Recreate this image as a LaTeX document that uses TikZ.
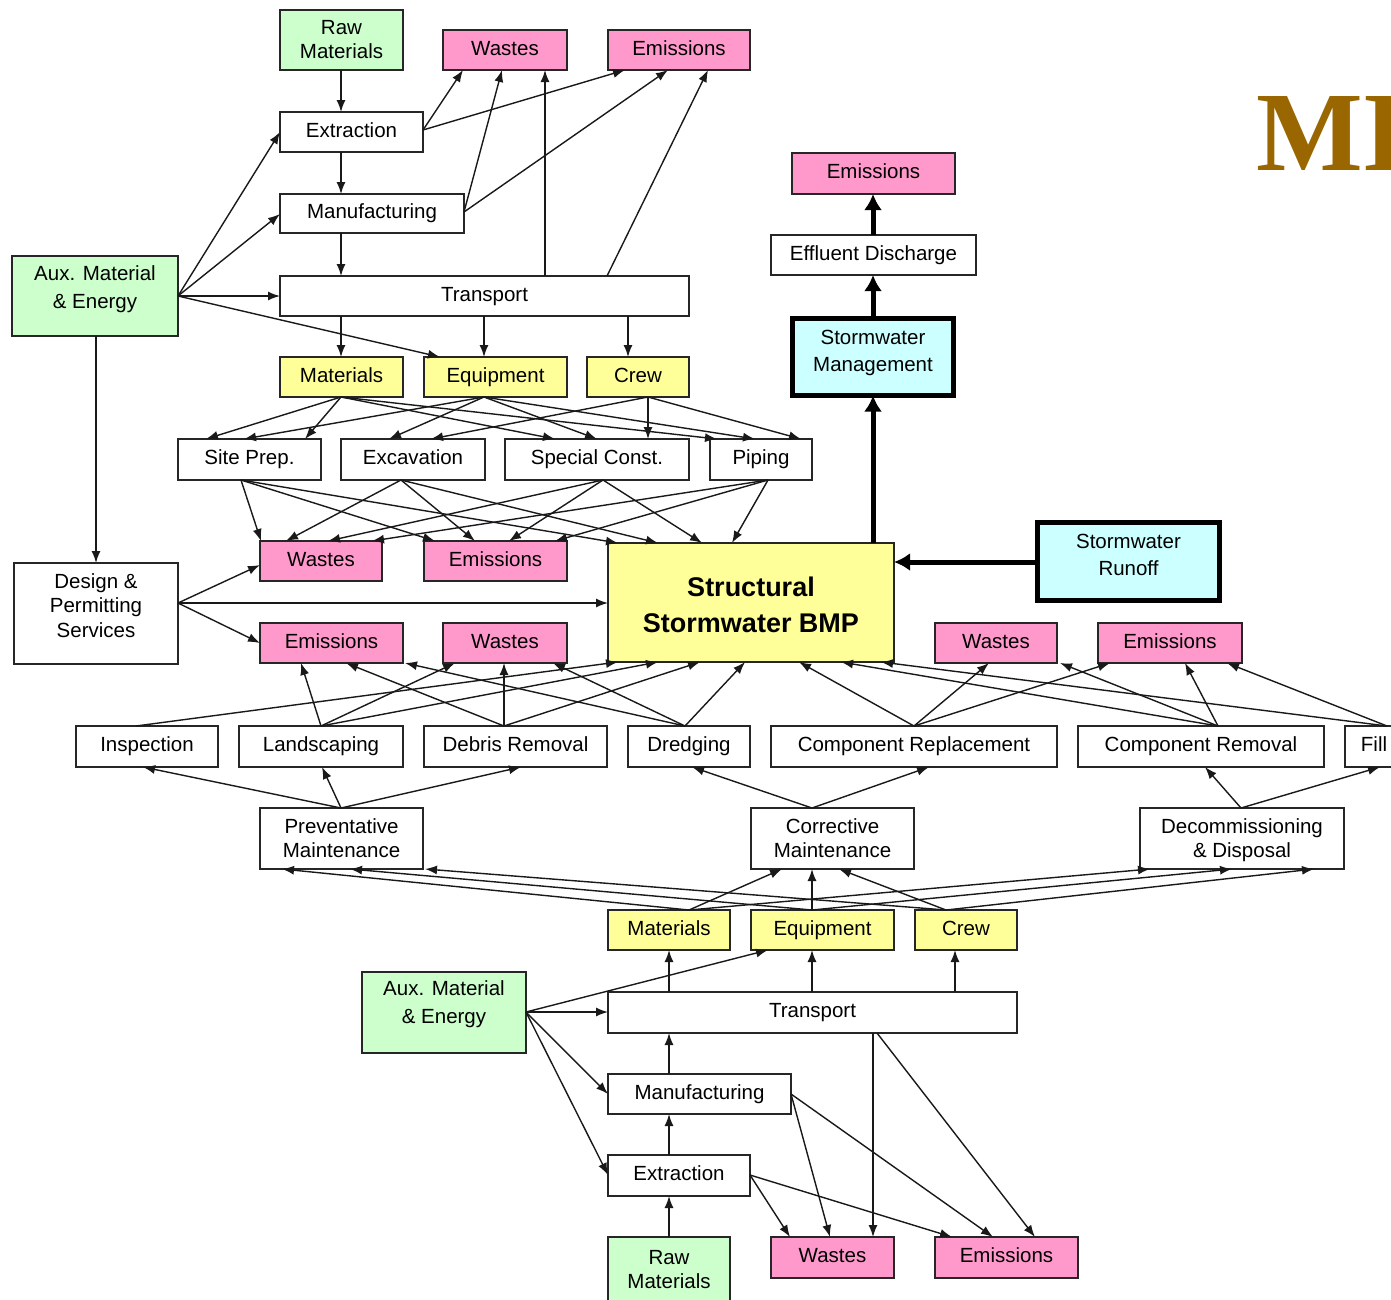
\documentclass[tikz,border=0pt]{standalone}
\usepackage{fontspec}
\setmainfont{Liberation Sans}
\newfontfamily\serifb{Liberation Serif}
\usetikzlibrary{arrows.meta}
\definecolor{gfill}{HTML}{CCFFCC}
\definecolor{pfill}{HTML}{FF99CC}
\definecolor{yfill}{HTML}{FFFF99}
\definecolor{cfill}{HTML}{CCFFFF}
\definecolor{brn}{HTML}{996600}
\newcommand\bx[8][text height=15pt,text depth=4.3pt]{%
  \node[#7, minimum width={#5pt-#3pt}, minimum height={#6pt-#4pt}] (#2) at ({(#3+#5)/2},{(#4+#6)/2}) {};
  \node[txt,#1] (#2t) at (#2.center) {#8};}
\newcommand\ptT[2]{([xshift=#2pt]#1.north west)}
\newcommand\ptB[2]{([xshift=#2pt]#1.south west)}
\newcommand\ptL[2]{([yshift=-#2pt]#1.north west)}
\newcommand\ptR[2]{([yshift=-#2pt]#1.north east)}
\begin{document}
\begin{tikzpicture}[x=1pt,y=-1pt,
  box/.style={draw=black!85, line width=1.4pt, inner sep=0pt, outer sep=0pt},
  txt/.style={inner sep=0pt, outer sep=0pt, align=center, font=\fontsize{20.5}{24}\selectfont},
  wbox/.style={box, fill=white},
  gbox/.style={box, fill=gfill},
  pbox/.style={box, fill=pfill},
  ybox/.style={box, fill=yfill},
  cbox/.style={box, fill=cfill, draw=black, line width=5pt},
  arr/.style={draw=black!90, line width=1.4pt, -{Latex[length=12pt,width=9pt]}},
  tarr/.style={draw=black, line width=5pt, -{Latex[length=16pt,width=18pt]}}]
\useasboundingbox (0,0) rectangle (1391,1299);
\clip (0,0) rectangle (1391,1299);
\fill[white] (0,0) rectangle (1391,1299);
% title
\node[anchor=base west, text=brn, font=\serifb\bfseries\fontsize{113}{113}\selectfont, inner sep=0pt] (ttl) at (1256,170) {MI};
% top section
\bx[]{rmA}{280}{10}{403}{70}{gbox}{Raw\\Materials}
\bx{wA}{443}{30}{567}{70}{pbox}{Wastes}
\bx{eA}{608}{30}{750}{70}{pbox}{Emissions}
\bx{exA}{280}{112}{423}{152}{wbox}{Extraction}
\bx{mfA}{280}{194}{464}{233}{wbox}{Manufacturing}
\bx[yshift=7pt]{auxA}{12}{256}{178}{336}{gbox}{Aux. Material\\[4pt]\& Energy}
\bx{trA}{280}{276}{689}{316}{wbox}{Transport}
\bx{matA}{280}{357}{403}{397}{ybox}{Materials}
\bx{eqA}{424}{357}{567}{397}{ybox}{Equipment}
\bx{crA}{587}{357}{689}{397}{ybox}{Crew}
\bx{sp}{178}{439}{321}{480}{wbox}{Site Prep.}
\bx{exc}{341}{439}{485}{480}{wbox}{Excavation}
\bx{sc}{505}{439}{689}{480}{wbox}{Special Const.}
\bx{pip}{710}{439}{812}{480}{wbox}{Piping}
\bx{wB}{260}{541}{382}{581}{pbox}{Wastes}
\bx{eB}{424}{541}{567}{581}{pbox}{Emissions}
\bx[font=\bfseries\fontsize{27}{36}\selectfont, yshift=-2pt]{bmp}{608}{543}{894}{662}{ybox}{Structural\\Stormwater BMP}
\bx[yshift=8pt]{des}{14}{563}{178}{664}{wbox}{Design \&\\Permitting\\[1pt]Services}
\bx{eC}{260}{623}{403}{663}{pbox}{Emissions}
\bx{wC}{443}{623}{567}{663}{pbox}{Wastes}
\bx{wD}{935}{623}{1057}{663}{pbox}{Wastes}
\bx{eD}{1098}{623}{1242}{663}{pbox}{Emissions}
\bx{eE}{792}{153}{955}{194}{pbox}{Emissions}
\bx{eff}{771}{235}{976}{275}{wbox}{Effluent Discharge}
\bx[yshift=4pt]{swm}{792.5}{318.5}{953.5}{395.5}{cbox}{Stormwater\\[3pt]Management}
\bx[yshift=7pt]{ro}{1037.5}{522.5}{1219.5}{600.5}{cbox}{Stormwater\\[3pt]Runoff}
% maintenance tasks
\bx{ins}{76}{726}{218}{767}{wbox}{Inspection}
\bx{lan}{239}{726}{403}{767}{wbox}{Landscaping}
\bx{deb}{424}{726}{607}{767}{wbox}{Debris Removal}
\bx{dre}{628}{726}{750}{767}{wbox}{Dredging}
\bx{cre}{771}{726}{1057}{767}{wbox}{Component Replacement}
\bx{crm}{1078}{726}{1324}{767}{wbox}{Component Removal}
\bx{fil}{1345}{726}{1403}{767}{wbox}{Fill}
\bx[]{prv}{260}{808}{423}{869}{wbox}{Preventative\\Maintenance}
\bx[]{cor}{751}{808}{914}{869}{wbox}{Corrective\\Maintenance}
\bx[yshift=-2pt]{dec}{1140}{808}{1344}{869}{wbox}{Decommissioning\\\& Disposal}
% bottom section
\bx{matB}{608}{910}{730}{950}{ybox}{Materials}
\bx{eqB}{751}{910}{894}{950}{ybox}{Equipment}
\bx{crB}{915}{910}{1017}{950}{ybox}{Crew}
\bx[yshift=8pt]{auxB}{362}{972}{526}{1053}{gbox}{Aux. Material\\[4pt]\& Energy}
\bx{trB}{608}{992}{1017}{1033}{wbox}{Transport}
\bx{mfB}{608}{1074}{791}{1114}{wbox}{Manufacturing}
\bx{exB}{608}{1155}{750}{1196}{wbox}{Extraction}
\bx[]{rmB}{608}{1237}{730}{1302}{gbox}{Raw\\Materials}
\bx{wE}{771}{1237}{894}{1278}{pbox}{Wastes}
\bx{eF}{935}{1237}{1078}{1278}{pbox}{Emissions}
% ---- top connectors
\draw[arr] \ptB{rmA}{61} -- \ptT{exA}{61};
\draw[arr] \ptB{exA}{61} -- \ptT{mfA}{61};
\draw[arr] \ptB{mfA}{61} -- \ptT{trA}{61};
\draw[arr] \ptR{auxA}{40} -- \ptL{exA}{20};
\draw[arr] \ptR{auxA}{40} -- \ptL{mfA}{20};
\draw[arr] \ptR{auxA}{40} -- \ptL{trA}{20};
\draw[arr] \ptR{auxA}{40} -- \ptT{eqA}{16};
\draw[arr] \ptR{exA}{18} -- \ptB{wA}{20};
\draw[arr] \ptR{exA}{18} -- \ptB{eA}{17};
\draw[arr] \ptR{mfA}{18} -- \ptB{wA}{59};
\draw[arr] \ptR{mfA}{18} -- \ptB{eA}{60};
\draw[arr] \ptT{trA}{265} -- \ptB{wA}{102};
\draw[arr] \ptT{trA}{327} -- \ptB{eA}{100};
\draw[arr] \ptB{trA}{61} -- \ptT{matA}{61};
\draw[arr] \ptB{trA}{204} -- \ptT{eqA}{60};
\draw[arr] \ptB{trA}{348} -- \ptT{crA}{41};
\draw[arr] \ptB{auxA}{84} -- \ptT{des}{82};
% resources -> construction
\draw[arr] \ptB{matA}{61} -- \ptT{sp}{28};
\draw[arr] \ptB{matA}{61} -- \ptT{sp}{127};
\draw[arr] \ptB{matA}{61} -- \ptT{sc}{50};
\draw[arr] \ptB{matA}{61} -- \ptT{pip}{7};
\draw[arr] \ptB{eqA}{60} -- \ptT{sp}{66};
\draw[arr] \ptB{eqA}{60} -- \ptT{exc}{48};
\draw[arr] \ptB{eqA}{60} -- \ptT{sc}{92};
\draw[arr] \ptB{eqA}{60} -- \ptT{pip}{45};
\draw[arr] \ptB{crA}{61} -- \ptT{exc}{90};
\draw[arr] \ptB{crA}{61} -- \ptT{sc}{143};
\draw[arr] \ptB{crA}{61} -- \ptT{pip}{91};
% construction -> wastes/emissions/BMP
\draw[arr] \ptB{sp}{63} -- \ptT{wB}{1};
\draw[arr] \ptB{sp}{63} -- \ptT{eB}{11};
\draw[arr] \ptB{sp}{63} -- \ptT{bmp}{10};
\draw[arr] \ptB{exc}{60} -- \ptT{wB}{26};
\draw[arr] \ptB{exc}{60} -- \ptT{eB}{51};
\draw[arr] \ptB{exc}{60} -- \ptT{bmp}{50};
\draw[arr] \ptB{sc}{98} -- \ptT{wB}{68};
\draw[arr] \ptB{sc}{98} -- \ptT{eB}{85};
\draw[arr] \ptB{sc}{98} -- \ptT{bmp}{94};
\draw[arr] \ptB{pip}{58} -- \ptT{wB}{112};
\draw[arr] \ptB{pip}{58} -- \ptT{eB}{131};
\draw[arr] \ptB{pip}{58} -- \ptT{bmp}{124};
% design
\draw[arr] \ptR{des}{40} -- \ptL{wB}{24};
\draw[arr] \ptR{des}{40} -- \ptL{bmp}{60};
\draw[arr] \ptR{des}{40} -- \ptL{eC}{20};
% thick flows
\draw[tarr] \ptL{ro}{39.5} -- \ptR{bmp}{19};
\draw[tarr] \ptT{bmp}{265} -- \ptB{swm}{80.5};
\draw[tarr] \ptT{swm}{80.5} -- \ptB{eff}{102};
\draw[tarr] \ptT{eff}{102} -- \ptB{eE}{81};
% tasks -> outputs
\draw[arr] \ptT{ins}{60} -- \ptB{bmp}{10};
\draw[arr] \ptT{lan}{82} -- \ptB{eC}{41};
\draw[arr] \ptT{lan}{82} -- \ptB{wC}{12};
\draw[arr] \ptT{lan}{82} -- \ptB{bmp}{50};
\draw[arr] \ptT{deb}{80} -- \ptB{eC}{86};
\draw[arr] \ptT{deb}{80} -- \ptB{wC}{61};
\draw[arr] \ptT{deb}{80} -- \ptB{bmp}{92};
\draw[arr] \ptT{dre}{57} -- \ptB{eC}{145};
\draw[arr] \ptT{dre}{57} -- \ptB{wC}{110};
\draw[arr] \ptT{dre}{57} -- \ptB{bmp}{137};
\draw[arr] \ptT{cre}{143} -- \ptB{bmp}{191};
\draw[arr] \ptT{cre}{143} -- \ptB{wD}{54};
\draw[arr] \ptT{cre}{143} -- \ptB{eD}{12};
\draw[arr] \ptT{crm}{140} -- \ptB{bmp}{233};
\draw[arr] \ptT{crm}{140} -- \ptB{wD}{125};
\draw[arr] \ptT{crm}{140} -- \ptB{eD}{87};
\draw[arr] \ptT{fil}{42} -- \ptB{bmp}{273};
\draw[arr] \ptT{fil}{42} -- \ptB{eD}{129};
% maintenance types -> tasks
\draw[arr] \ptT{prv}{81} -- \ptB{ins}{67};
\draw[arr] \ptT{prv}{81} -- \ptB{lan}{83};
\draw[arr] \ptT{prv}{81} -- \ptB{deb}{97};
\draw[arr] \ptT{cor}{61} -- \ptB{dre}{64};
\draw[arr] \ptT{cor}{61} -- \ptB{cre}{158};
\draw[arr] \ptT{dec}{101} -- \ptB{crm}{127};
\draw[arr] \ptT{dec}{101} -- \ptB{fil}{35};
% resources -> maintenance types
\draw[arr] \ptT{matB}{81} -- \ptB{prv}{22};
\draw[arr] \ptT{matB}{81} -- \ptB{cor}{31};
\draw[arr] \ptT{matB}{81} -- \ptB{dec}{10};
\draw[arr] \ptT{eqB}{61} -- \ptB{prv}{90};
\draw[arr] \ptT{eqB}{61} -- \ptB{cor}{61};
\draw[arr] \ptT{eqB}{61} -- \ptB{dec}{92};
\draw[arr] \ptT{crB}{31} -- \ptB{prv}{165};
\draw[arr] \ptT{crB}{31} -- \ptB{cor}{88};
\draw[arr] \ptT{crB}{31} -- \ptB{dec}{174};
% bottom connectors
\draw[arr] \ptR{auxB}{40} -- \ptB{eqB}{17};
\draw[arr] \ptR{auxB}{40} -- \ptL{trB}{20};
\draw[arr] \ptR{auxB}{40} -- \ptL{mfB}{20};
\draw[arr] \ptR{auxB}{40} -- \ptL{exB}{20};
\draw[arr] \ptT{rmB}{61} -- \ptB{exB}{61};
\draw[arr] \ptT{exB}{61} -- \ptB{mfB}{61};
\draw[arr] \ptT{mfB}{61} -- \ptB{trB}{61};
\draw[arr] \ptT{trB}{61} -- \ptB{matB}{61};
\draw[arr] \ptT{trB}{204} -- \ptB{eqB}{61};
\draw[arr] \ptT{trB}{347} -- \ptB{crB}{40};
\draw[arr] \ptR{exB}{20} -- \ptT{wE}{19};
\draw[arr] \ptR{exB}{20} -- \ptT{eF}{17};
\draw[arr] \ptR{mfB}{20} -- \ptT{wE}{59};
\draw[arr] \ptR{mfB}{20} -- \ptT{eF}{58};
\draw[arr] \ptB{trB}{265} -- \ptT{wE}{102};
\draw[arr] \ptB{trB}{269} -- \ptT{eF}{100};
\end{tikzpicture}
\end{document}
